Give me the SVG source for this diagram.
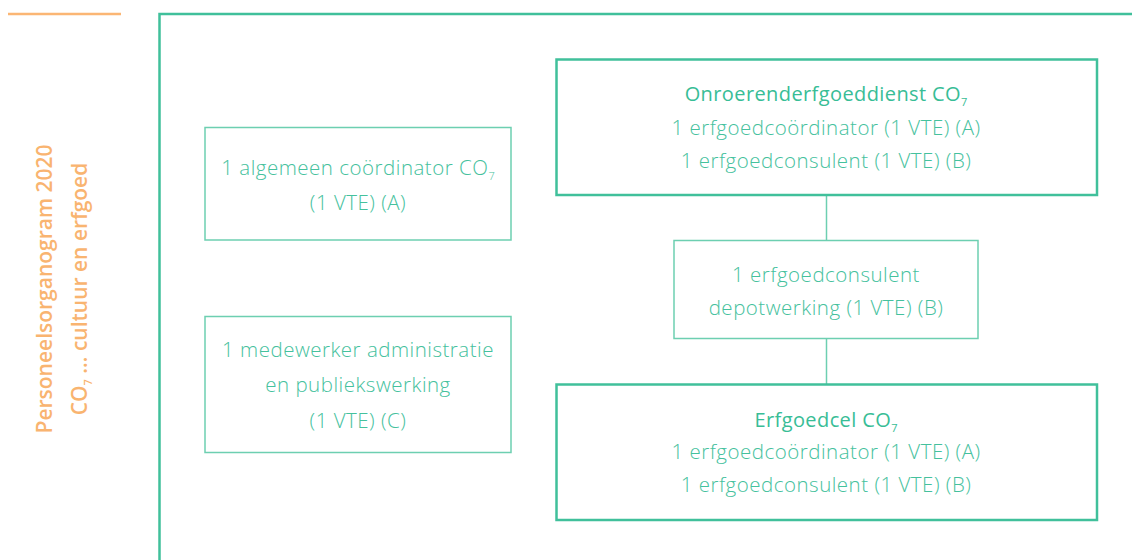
<svg xmlns="http://www.w3.org/2000/svg" width="1132" height="560" viewBox="0 0 1132 560">
<style>
  .t { font-family: "Open Sans", "Lato", "Liberation Sans", sans-serif; font-size: 20.5px; font-weight: 300; letter-spacing: 0.5px; fill: #45c19d; text-anchor: middle; }
  .h { font-weight: 400; font-size: 20px; letter-spacing: 0.4px; fill: #38bd96; }
  .v { font-family: "Open Sans", "Lato", "Liberation Sans", sans-serif; font-size: 21px; font-weight: 600; fill: #f9b470; text-anchor: middle; }
  .thick { fill: #ffffff; stroke: #40c09b; stroke-width: 2.5; }
  .thin { fill: #ffffff; stroke: #6dcfb1; stroke-width: 1.5; }
  .sub { font-size: 11px; letter-spacing: 0; }
</style>
<rect width="1132" height="560" fill="#ffffff"/>
<g id="frame">
  <line x1="8" y1="14" x2="121" y2="14" stroke="#fbb674" stroke-width="2.5"/>
  <path d="M159.5 560 V14 H1132" fill="none" stroke="#40c09b" stroke-width="2.5"/>
</g>
<g id="title">
  <text class="v" transform="translate(52 289) rotate(-90)">Personeelsorganogram 2020</text>
  <text class="v" transform="translate(87 289) rotate(-90)">CO<tspan class="sub" dy="5">7</tspan><tspan dy="-5"> … cultuur en erfgoed</tspan></text>
</g>
<g id="connectors">
  <line x1="826.5" y1="195" x2="826.5" y2="240" stroke="#6dcfb1" stroke-width="1.5"/>
  <line x1="826.5" y1="339" x2="826.5" y2="384" stroke="#6dcfb1" stroke-width="1.5"/>
</g>
<g id="algemeen">
  <rect class="thin" x="205" y="127.5" width="306" height="112.5"/>
  <text class="t" x="358" y="175">1 algemeen coördinator CO<tspan class="sub" dy="5">7</tspan></text>
  <text class="t" x="358" y="210">(1 VTE) (A)</text>
</g>
<g id="medewerker">
  <rect class="thin" x="205" y="316.5" width="306" height="136"/>
  <text class="t" x="358" y="357">1 medewerker administratie</text>
  <text class="t" x="358" y="392">en publiekswerking</text>
  <text class="t" x="358" y="428">(1 VTE) (C)</text>
</g>
<g id="onroerend">
  <rect class="thick" x="556.5" y="59.5" width="540.5" height="135.5"/>
  <text class="t h" x="826" y="101">Onroerenderfgoeddienst CO<tspan class="sub" dy="5">7</tspan></text>
  <text class="t" x="826" y="135">1 erfgoedcoördinator (1 VTE) (A)</text>
  <text class="t" x="826" y="168">1 erfgoedconsulent (1 VTE) (B)</text>
</g>
<g id="depot">
  <rect class="thin" x="674" y="240.5" width="304" height="98"/>
  <text class="t" x="826" y="282">1 erfgoedconsulent</text>
  <text class="t" x="826" y="315">depotwerking (1 VTE) (B)</text>
</g>
<g id="erfgoedcel">
  <rect class="thick" x="556.5" y="384.5" width="540.5" height="135.5"/>
  <text class="t h" x="826" y="427">Erfgoedcel CO<tspan class="sub" dy="5">7</tspan></text>
  <text class="t" x="826" y="459">1 erfgoedcoördinator (1 VTE) (A)</text>
  <text class="t" x="826" y="492">1 erfgoedconsulent (1 VTE) (B)</text>
</g>
</svg>
